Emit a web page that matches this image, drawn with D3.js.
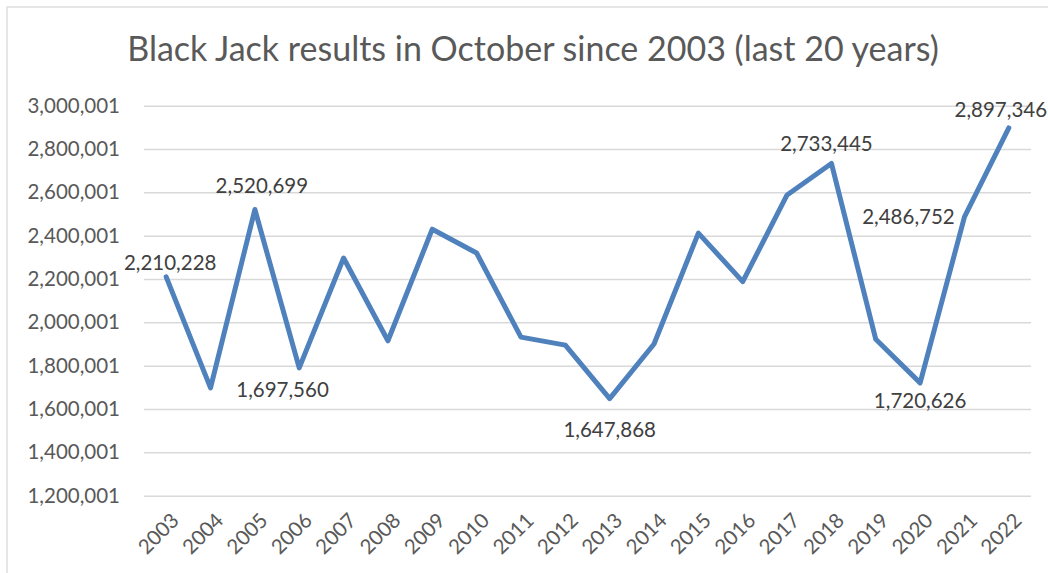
<!DOCTYPE html>
<html>
<head>
<meta charset="utf-8">
<script src="https://cdnjs.cloudflare.com/ajax/libs/d3/7.8.5/d3.min.js"></script>
<style>
	body { margin: 0; background: #fff; }
	svg { display: block; font-family: Lato, "Open Sans", sans-serif; }
</style>
</head>
<body>
<script>
// Chart values
var years = ["2003", "2004", "2005", "2006", "2007", "2008", "2009", "2010", "2011", "2012",
             "2013", "2014", "2015", "2016", "2017", "2018", "2019", "2020", "2021", "2022"];
var results = [2210228, 1697560, 2520699, 1790000, 2297000, 1915000, 2430000, 2320000, 1932000, 1895000,
               1647868, 1900000, 2412000, 2188000, 2588000, 2733445, 1922000, 1720626, 2486752, 2897346];
var yTicks = [1200001, 1400001, 1600001, 1800001, 2000001, 2200001, 2400001, 2600001, 2800001, 3000001];
// which points get a data label
var labelled = ["2003", "2004", "2005", "2013", "2018", "2020", "2021", "2022"];

// label offsets from their point (moved by hand in the original)
var labelOffset = {
	"2003": [4, -14], "2004": [72, 2], "2005": [7, -24], "2013": [0, 31],
	"2018": [-5, -20], "2020": [0, 18], "2021": [-56, 0], "2022": [-8, -18]
};

// Define margins
var margin = {top: 105.7, right: 17, bottom: 77.3, left: 144};
var outer_width = 1048;
var outer_height = 573;
var svg_width = outer_width - margin.left - margin.right;
var svg_height = outer_height - margin.top - margin.bottom;

var root = d3.select("body")
			.append("svg")
			.attr("width", outer_width)
			.attr("height", outer_height);

// chart frame
root.append("rect")
	.attr("x", 7)
	.attr("y", 7)
	.attr("width", 1080)
	.attr("height", 620)
	.attr("fill", "none")
	.attr("stroke", "#d9d9d9")
	.attr("stroke-width", 1.3);

// Title
root.append("text")
	.attr("x", 533)
	.attr("y", 61)
	.attr("text-anchor", "middle")
	.style("font-size", "34px")
	.style("fill", "#595959")
	.text("Black Jack results in October since 2003 (last 20 years)");

var svg = root.append("g")
			.attr("transform", "translate(" + margin.left + "," + margin.top + ")");

var xScale = d3.scaleBand()
				.domain(years)
				.range([0, svg_width]);

var yScale = d3.scaleLinear()
				.domain([yTicks[0], yTicks[yTicks.length - 1]])
				.range([svg_height, 0]);

// gridlines
var grid = d3.axisLeft()
				.scale(yScale)
				.tickValues(yTicks)
				.tickSize(-svg_width)
				.tickFormat("");

svg.append("g")
	.attr("class", "grid")
	.call(grid)
	.call(function(g) {
		g.select(".domain").remove();
		g.selectAll("line").attr("stroke", "#d9d9d9").attr("stroke-width", 1.5);
	});

// Y axis labels
var yAxis = d3.axisLeft()
				.scale(yScale)
				.tickValues(yTicks)
				.tickSize(0)
				.tickPadding(24)
				.tickFormat(d3.format(","));

svg.append("g")
	.attr("class", "axis")
	.call(yAxis)
	.call(function(g) {
		g.select(".domain").remove();
		g.selectAll("text")
			.style("font-size", "20.5px")
			.style("font-family", "Lato, sans-serif")
			.attr("fill", "#595959");
	});

// X axis labels
var xAxis = d3.axisBottom()
				.scale(xScale)
				.tickSize(0);

svg.append("g")
	.attr("class", "axis")
	.attr("transform", "translate(0," + svg_height + ")")
	.call(xAxis)
	.call(function(g) {
		g.select(".domain").remove();
		g.selectAll("text")
			.style("font-size", "20.5px")
			.style("font-family", "Lato, sans-serif")
			.attr("fill", "#595959")
			.attr("text-anchor", "end")
			.attr("dy", "0.35em")
			.attr("transform", "translate(9,21) rotate(-45)")
			.attr("y", 0)
			.attr("x", 0);
	});

// the line
var line = d3.line()
			.x(function(d, i) { return xScale(years[i]) + xScale.bandwidth() / 2; })
			.y(function(d) { return yScale(d); });

svg.append("path")
	.datum(results)
	.attr("d", line)
	.attr("fill", "none")
	.attr("stroke", "#4f81bd")
	.attr("stroke-width", 5)
	.attr("stroke-linejoin", "round")
	.attr("stroke-linecap", "round");

// data labels
svg.selectAll(".dlabel")
	.data(labelled)
	.enter()
	.append("text")
	.attr("class", "dlabel")
	.attr("x", function(d) { return xScale(d) + xScale.bandwidth() / 2 + labelOffset[d][0]; })
	.attr("y", function(d) { return yScale(results[years.indexOf(d)]) + labelOffset[d][1]; })
	.attr("dy", "0.35em")
	.attr("text-anchor", "middle")
	.style("font-size", "20.5px")
	.style("fill", "#404040")
	.text(function(d) { return d3.format(",")(results[years.indexOf(d)]); });
</script>
</body>
</html>
